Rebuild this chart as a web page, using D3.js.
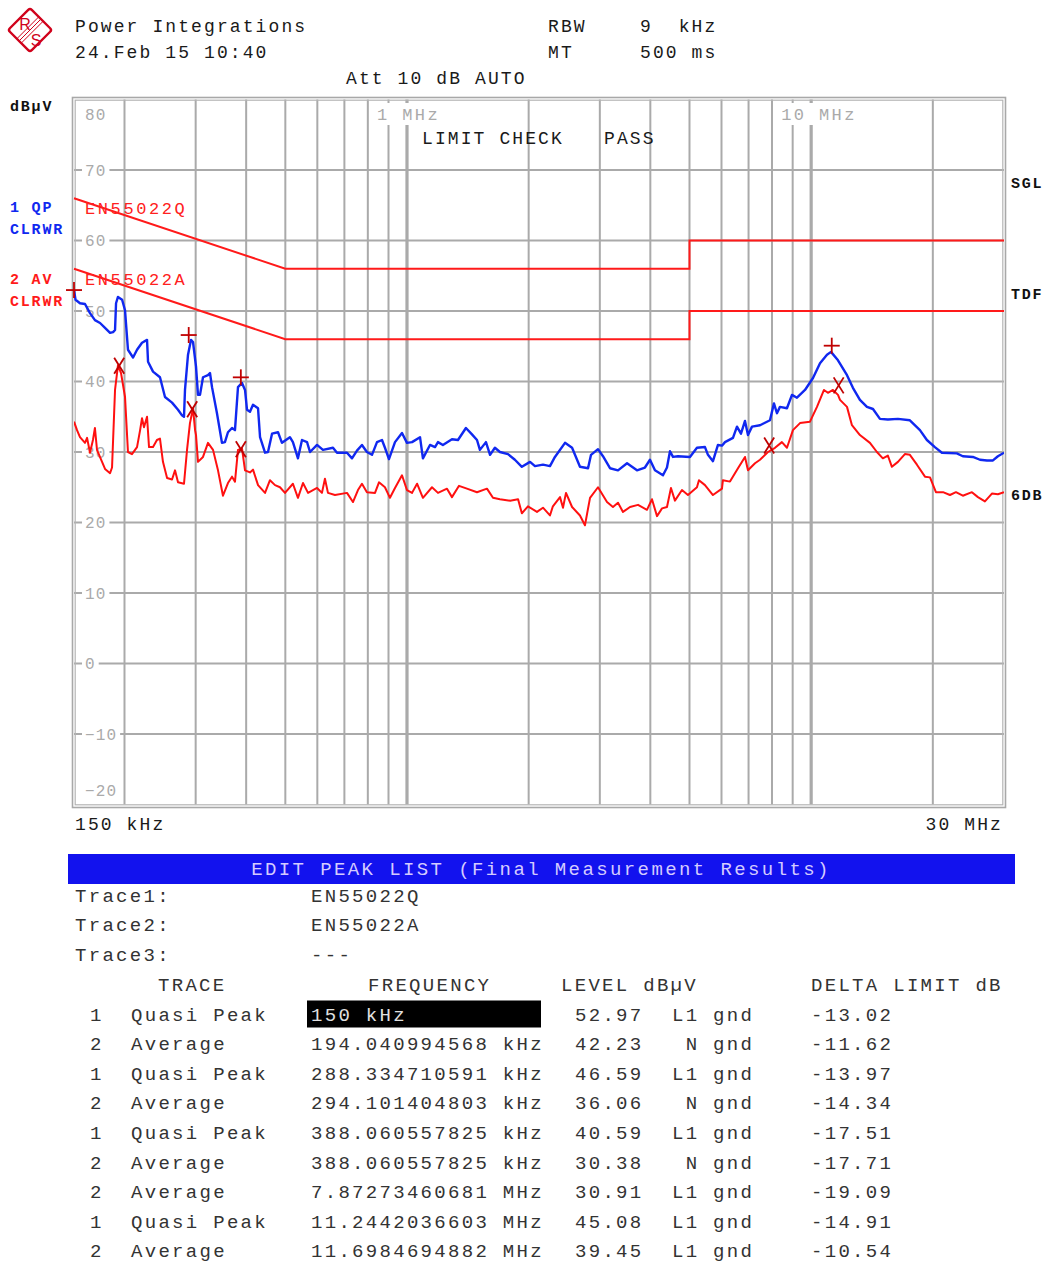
<!DOCTYPE html>
<html>
<head>
<meta charset="utf-8">
<script src="https://cdn.jsdelivr.net/npm/d3@7"></script>
<style>
  body { margin: 0; background: #fff; }
  svg { display: block; }
  text { white-space: pre; }
</style>
</head>
<body>
<svg id="chart" width="1046" height="1263"></svg>
<script>
// ---- Measurement data (frequency in kHz, level in dBµV) ----

// Trace 1: quasi-peak sweep
const qpTrace = [
  [150,53.0],[151.3,51.6],[155.2,51.1],[159.7,51.0],[164.3,49.7],[169.0,48.7],[174.0,48.3],[179.0,47.6],
  [184.2,46.9],[187.4,47.0],[189.5,47.3],[190.6,51.1],[192.7,52.0],[197.3,51.6],[200.6,50.1],[204.0,44.5],
  [210.0,43.4],[214.8,44.5],[221.0,45.5],[227.4,45.9],[228.7,42.8],[235.3,41.4],[244.8,40.6],[251.9,37.8],
  [262.2,37.0],[271.3,36.0],[277.5,35.2],[280.7,35.0],[282.3,38.8],[287.2,43.8],[292.1,45.9],[295.5,45.6],
  [300.6,42.1],[304.0,38.1],[307.5,38.1],[312.8,40.6],[321.8,40.9],[325.5,41.2],[329.3,39.2],[338.7,35.5],
  [348.5,31.3],[354.4,31.4],[360.6,32.8],[369.0,33.4],[375.3,33.1],[381.8,39.2],[390.6,39.8],[397.4,38.8],
  [401.9,36.0],[408.8,35.7],[415.9,36.7],[428.0,36.2],[432.9,32.1],[445.4,29.9],[453.0,30.0],[463.5,32.6],
  [479.6,32.8],[490.5,31.3],[513.2,32.1],[522.1,31.4],[537.3,29.1],[549.8,31.7],[565.8,31.4],[575.5,30.0],
  [599.0,31.0],[619.5,30.3],[656.0,30.6],[671.1,29.9],[710.4,29.9],[731.0,29.1],[752.0,30.2],[773.7,31.0],
  [795.9,30.0],[819.2,29.6],[842.9,31.4],[867.2,31.7],[882.0,30.6],[902.4,29.0],[933.9,31.4],[971.9,32.7],
  [1000,31.3],[1029,31.4],[1077,32.1],[1095,29.1],[1140,31.0],[1173,30.7],[1193,31.4],[1227,31.0],
  [1292,31.8],[1337,31.7],[1399,33.4],[1448,32.5],[1490,31.7],[1515,30.3],[1568,31.4],[1605,29.6],
  [1650,30.6],[1698,30.0],[1778,29.7],[1849,28.9],[1924,27.9],[2016,28.6],[2073,28.0],[2170,28.2],
  [2258,28.0],[2323,29.3],[2460,31.3],[2561,30.6],[2679,27.9],[2805,27.7],[2853,29.6],[2969,30.4],
  [3054,29.4],[3179,27.7],[3327,27.4],[3503,28.4],[3707,27.4],[3879,27.8],[3992,28.9],[4107,27.4],
  [4299,26.7],[4398,27.8],[4474,30.1],[4551,29.3],[4683,29.4],[5013,29.3],[5217,30.6],[5461,30.7],
  [5555,29.6],[5715,28.7],[5880,31.0],[6016,30.9],[6120,31.4],[6405,32.0],[6553,33.6],[6704,32.6],
  [6859,34.4],[6977,32.4],[7139,33.6],[7472,33.8],[7908,34.5],[8090,36.9],[8229,35.5],[8371,36.4],
  [8712,36.2],[8964,38.1],[9223,37.7],[9654,38.8],[10104,40.5],[10517,42.6],[10944,43.8],[11196,44.2],
  [11652,43.0],[12265,40.9],[12686,39.1],[13202,37.4],[13741,36.4],[14222,36.1],[14798,34.7],[15480,34.6],
  [16395,34.7],[17550,34.5],[18585,33.1],[19335,31.7],[20235,30.7],[21060,29.9],[22935,29.8],[23730,29.4],
  [25125,29.3],[26160,28.9],[27225,28.8],[28170,28.8],[28980,29.4],[30000,29.9]
];

// Trace 2: average sweep
const avTrace = [
  [150,34.3],[152.6,33.1],[155.2,32.1],[159.7,31.3],[161.6,32.0],[164.3,29.9],[167.1,31.7],[169.0,33.4],
  [171.0,30.3],[176.0,28.6],[179.0,27.6],[184.2,27.0],[186.3,27.8],[189.5,38.8],[192.7,42.3],[196.1,41.2],
  [200.6,37.8],[204.0,30.0],[208.7,29.7],[214.8,30.7],[218.6,33.1],[221.0,34.8],[223.5,33.5],[227.4,35.0],
  [230.0,30.7],[235.3,30.7],[240.6,31.7],[244.8,31.9],[249.0,28.6],[254.9,26.3],[262.2,26.1],[266.7,27.4],
  [271.3,25.7],[280.7,25.5],[285.6,30.3],[290.4,34.1],[295.5,36.2],[299.0,33.1],[300.6,32.4],[304.0,28.6],
  [312.8,29.3],[321.8,31.3],[331.2,30.3],[340.7,27.4],[350.5,23.8],[360.6,25.6],[369.0,26.5],[375.3,25.8],
  [381.8,30.3],[390.6,30.5],[397.4,27.4],[408.8,27.1],[415.9,27.5],[428.0,25.3],[445.4,24.2],[458.1,26.0],
  [471.5,25.3],[485.0,25.0],[499.0,24.2],[522.1,25.5],[537.3,23.5],[552.9,25.6],[569.1,24.2],[599.0,24.9],
  [616.0,24.2],[626.6,26.2],[637.5,24.2],[663.4,23.9],[710.4,24.2],[735.0,22.9],[756.3,24.6],[773.7,25.5],
  [795.9,24.3],[833.4,24.2],[852.5,25.7],[882.0,25.0],[907.5,23.5],[933.9,24.9],[971.9,26.7],[1000,24.6],
  [1029,24.2],[1059,25.5],[1095,23.5],[1153,25.0],[1193,24.2],[1256,24.8],[1292,23.6],[1345,25.2],
  [1407,24.8],[1490,24.3],[1577,24.8],[1632,23.5],[1698,23.3],[1799,23.1],[1883,23.3],[1924,21.3],
  [1992,22.3],[2097,21.5],[2170,22.1],[2258,21.0],[2296,22.3],[2391,23.6],[2432,22.1],[2474,24.2],
  [2561,22.2],[2679,21.0],[2756,19.6],[2837,23.5],[2969,25.0],[3125,22.9],[3233,22.2],[3327,22.8],
  [3423,21.5],[3563,22.2],[3729,22.5],[3924,21.8],[4038,23.3],[4155,20.9],[4275,22.0],[4398,22.2],
  [4499,24.9],[4602,23.1],[4790,24.6],[4956,23.9],[5217,25.0],[5277,26.0],[5461,25.3],[5715,23.9],
  [6016,24.8],[6049,26.0],[6297,25.8],[6591,27.7],[6859,29.3],[6977,27.4],[7262,28.4],[7472,28.9],
  [7818,30.0],[8138,30.6],[8465,31.4],[8712,30.6],[9015,33.1],[9384,34.1],[9933,34.3],[10337,36.4],
  [10757,38.8],[11000,38.4],[11321,38.8],[11652,38.1],[11787,37.4],[12265,36.4],[12615,33.8],[13202,32.4],
  [13978,31.3],[14544,30.0],[15045,29.1],[15480,29.5],[15840,27.9],[16395,28.6],[17055,29.7],[17550,29.6],
  [18270,28.2],[19125,26.5],[19680,26.4],[20355,24.3],[21195,24.3],[22050,23.9],[22815,24.3],[23730,23.8],
  [24990,24.3],[25860,23.6],[26910,23.0],[28005,24.1],[28980,24.0],[30000,24.3]
];

// EN 55022 class B limit lines
const limitFreqKHz = [150, 500, 5000, 5000, 30000];
const qpLimit = [66, 56, 56, 60, 60];
const avLimit = [56, 46, 46, 50, 50];

// Axis ticks
const levelTicks = [80, 70, 60, 50, 40, 30, 20, 10, 0, -10, -20];
const gridFreqKHz = [200,300,400,500,600,700,800,900,1000,2000,3000,4000,5000,6000,7000,8000,9000,10000,20000];
const decadeFreqKHz = [1000, 10000];
const decadeLabels = ["1 MHz", "10 MHz"];

// Peak list (final measurement results)
const peakTrace = [1, 2, 1, 2, 1, 2, 2, 1, 2];
const peakDetector = ["Quasi Peak","Average","Quasi Peak","Average","Quasi Peak","Average","Average","Quasi Peak","Average"];
const peakFreqLabel = ["150 kHz","194.040994568 kHz","288.334710591 kHz","294.101404803 kHz","388.060557825 kHz",
  "388.060557825 kHz","7.87273460681 MHz","11.2442036603 MHz","11.6984694882 MHz"];
const peakFreqKHz = [150, 194.040994568, 288.334710591, 294.101404803, 388.060557825, 388.060557825,
  7872.73460681, 11244.2036603, 11698.4694882];
const peakLevel = [52.97, 42.23, 46.59, 36.06, 40.59, 30.38, 30.91, 45.08, 39.45];
const peakLine = ["L1", "N", "L1", "N", "L1", "N", "L1", "L1", "L1"];
const peakDelta = [-13.02, -11.62, -13.97, -14.34, -17.51, -17.71, -19.09, -14.91, -10.54];

// ---- Drawing ----
const MONO = "'Courier New','Liberation Mono',monospace";
const svg = d3.select("#chart");

const plot = { left: 74, right: 1004, top: 99.5, bottom: 804.5 };
const x = d3.scaleLog().domain([150, 30000]).range([plot.left, plot.right]);
const y = d3.scaleLinear().domain([-20, 80]).range([plot.bottom, plot.top]);

function label(g, px, py, str, opt = {}) {
  return g.append("text")
    .attr("x", px).attr("y", py)
    .attr("font-family", MONO)
    .attr("font-size", opt.size || 18)
    .attr("font-weight", opt.weight || "normal")
    .attr("letter-spacing", opt.ls !== undefined ? opt.ls : 2.1)
    .attr("fill", opt.fill || "#1a1a1a")
    .attr("text-anchor", opt.anchor || "start")
    .text(str);
}

// Logo
const RED_LOGO = "#d0021b";
const logo = svg.append("g").attr("transform", "translate(30,30)");
logo.append("rect").attr("x", -15.5).attr("y", -15.5).attr("width", 31).attr("height", 31)
  .attr("rx", 2.5).attr("transform", "rotate(45)")
  .attr("fill", "none").attr("stroke", RED_LOGO).attr("stroke-width", 2.4);
[-2.2, 0, 2.2].forEach(o => {
  logo.append("line").attr("x1", -11 + o).attr("y1", 11 + o).attr("x2", 11 + o).attr("y2", -11 + o)
    .attr("stroke", RED_LOGO).attr("stroke-width", 1);
});
logo.append("text").attr("x", -5).attr("y", 0).attr("text-anchor", "middle")
  .attr("font-family", "'Liberation Sans',Arial,sans-serif").attr("font-size", 16)
  .attr("fill", RED_LOGO).text("R");
logo.append("text").attr("x", 6).attr("y", 16).attr("text-anchor", "middle")
  .attr("font-family", "'Liberation Sans',Arial,sans-serif").attr("font-size", 16)
  .attr("fill", RED_LOGO).text("S");

// Header
const head = svg.append("g");
label(head, 75, 32, "Power Integrations");
label(head, 75, 58, "24.Feb 15 10:40");
label(head, 548, 32, "RBW");
label(head, 640, 32, "9  kHz");
label(head, 548, 58, "MT");
label(head, 640, 58, "500 ms");
label(head, 346, 84, "Att 10 dB AUTO");

// Grid
const grid = svg.append("g");
gridFreqKHz.forEach(f => {
  const major = decadeFreqKHz.includes(f);
  grid.append("line")
    .attr("x1", x(f)).attr("x2", x(f)).attr("y1", plot.top).attr("y2", plot.bottom)
    .attr("stroke", "#aaaaaa").attr("stroke-width", major ? 3.2 : 2);
});
levelTicks.filter(v => v > -20 && v < 80).forEach(v => {
  grid.append("line")
    .attr("x1", plot.left).attr("x2", plot.right).attr("y1", y(v)).attr("y2", y(v))
    .attr("stroke", "#aaaaaa").attr("stroke-width", 2);
});

// Frame (double rule)
svg.append("rect").attr("x", 72.5).attr("y", 97.5).attr("width", 933).attr("height", 710)
  .attr("fill", "none").attr("stroke", "#a8a8a8").attr("stroke-width", 1.6);
svg.append("rect").attr("x", 75.2).attr("y", 100.2).attr("width", 927.6).attr("height", 704.6)
  .attr("fill", "none").attr("stroke", "#b4b4b4").attr("stroke-width", 1.2);

// Level tick labels
const tickG = svg.append("g");
levelTicks.forEach(v => {
  let py = y(v);
  if (v === 80) py = 114;
  if (v === -20) py = 790;
  const str = String(v);
  const w = str.length * 10.7;
  if (v !== 80 && v !== -20) {
    tickG.append("rect").attr("x", 82).attr("y", py - 8).attr("width", w + 6).attr("height", 16).attr("fill", "#fff");
  }
  label(tickG, 85, py + 5.5, str.replace("-", "\u2212"), { size: 16, ls: 1.1, fill: "#aaaaaa" });
});

// Decade labels on top row
decadeFreqKHz.forEach((f, i) => {
  const str = decadeLabels[i];
  const lx = x(f) - 30;
  tickG.append("rect").attr("x", lx - 3).attr("y", 103).attr("width", str.length * 12.8 + 4).attr("height", 22).attr("fill", "#fff");
  label(tickG, lx, 120, str, { size: 17, ls: 2.4, fill: "#aaaaaa" });
});

// Limit lines
const limitLine = d3.line().x(d => x(d[0])).y(d => y(d[1]));
const limG = svg.append("g");
[qpLimit, avLimit].forEach(lv => {
  limG.append("path").datum(limitFreqKHz.map((f, i) => [f, lv[i]]))
    .attr("d", limitLine).attr("fill", "none").attr("stroke", "#ff1a1a").attr("stroke-width", 2);
});
label(limG, 85, 214, "EN55022Q", { size: 17, ls: 2.6, fill: "#ff2020" });
label(limG, 85, 285, "EN55022A", { size: 17, ls: 2.6, fill: "#ff2020" });

// Measurement traces
svg.append("clipPath").attr("id", "plotClip").append("rect")
  .attr("x", plot.left).attr("y", plot.top).attr("width", plot.right - plot.left).attr("height", plot.bottom - plot.top);
const traceG = svg.append("g").attr("clip-path", "url(#plotClip)");
const traceLine = d3.line().x(d => x(d[0])).y(d => y(d[1]));
traceG.append("path").datum(avTrace).attr("d", traceLine)
  .attr("fill", "none").attr("stroke", "#ff1010").attr("stroke-width", 2).attr("stroke-linejoin", "round");
traceG.append("path").datum(qpTrace).attr("d", traceLine)
  .attr("fill", "none").attr("stroke", "#1028f0").attr("stroke-width", 2.4).attr("stroke-linejoin", "round");

// Peak markers: + for quasi-peak, x for average
const markG = svg.append("g").attr("stroke", "#c00000").attr("stroke-width", 1.8);
peakFreqKHz.forEach((f, i) => {
  const cx = x(f), cy = y(peakLevel[i]);
  if (peakTrace[i] === 1) {
    markG.append("line").attr("x1", cx - 8).attr("x2", cx + 8).attr("y1", cy).attr("y2", cy);
    markG.append("line").attr("x1", cx).attr("x2", cx).attr("y1", cy - 8).attr("y2", cy + 8);
  } else {
    markG.append("line").attr("x1", cx - 5).attr("x2", cx + 5).attr("y1", cy - 8).attr("y2", cy + 8);
    markG.append("line").attr("x1", cx + 5).attr("x2", cx - 5).attr("y1", cy - 8).attr("y2", cy + 8);
  }
});

// In-plot annotation
label(svg, 422, 144, "LIMIT CHECK");
label(svg, 604, 144, "PASS");

// Side annotations
const side = svg.append("g");
const sideOpt = (fill) => ({ size: 15, weight: "bold", ls: 1.8, fill });
label(side, 10, 111, "dBµV", sideOpt("#111"));
label(side, 10, 212, "1 QP", sideOpt("#1028f0"));
label(side, 10, 234, "CLRWR", sideOpt("#1028f0"));
label(side, 10, 284, "2 AV", sideOpt("#ff1a1a"));
label(side, 10, 306, "CLRWR", sideOpt("#ff1a1a"));
label(side, 1011, 188, "SGL", sideOpt("#111"));
label(side, 1011, 299, "TDF", sideOpt("#111"));
label(side, 1011, 500, "6DB", sideOpt("#111"));

// Frequency span labels
label(svg, 75, 830, "150 kHz");
label(svg, 1003, 830, "30 MHz", { anchor: "end" });

// Peak list table
const tbl = svg.append("g");
tbl.append("rect").attr("x", 68).attr("y", 854).attr("width", 947).attr("height", 30).attr("fill", "#1212ee");
label(tbl, 541, 875, "EDIT PEAK LIST (Final Measurement Results)", { size: 19, ls: 2.4, fill: "#d4cbff", anchor: "middle" });

const TCOL = "#333333";
const tOpt = { size: 19, ls: 2.3, fill: TCOL };
label(tbl, 75, 902, "Trace1:", tOpt);
label(tbl, 311, 902, "EN55022Q", tOpt);
label(tbl, 75, 931, "Trace2:", tOpt);
label(tbl, 311, 931, "EN55022A", tOpt);
label(tbl, 75, 961, "Trace3:", tOpt);
label(tbl, 311, 961, "---", tOpt);
label(tbl, 158, 991, "TRACE", tOpt);
label(tbl, 368, 991, "FREQUENCY", tOpt);
label(tbl, 561, 991, "LEVEL dBµV", tOpt);
label(tbl, 811, 991, "DELTA LIMIT dB", tOpt);

peakTrace.forEach((t, i) => {
  const cy = 1014 + i * 29.6;
  const by = cy + 6.5;
  if (i === 0) {
    tbl.append("rect").attr("x", 307).attr("y", cy - 13.5).attr("width", 234).attr("height", 27).attr("fill", "#000");
  }
  label(tbl, 90, by, String(t), tOpt);
  label(tbl, 131, by, peakDetector[i], tOpt);
  label(tbl, 311, by, peakFreqLabel[i], i === 0 ? { size: 19, ls: 2.3, fill: "#e0e0e0" } : tOpt);
  label(tbl, 575, by, peakLevel[i].toFixed(2), tOpt);
  label(tbl, 672, by, (peakLine[i].length === 1 ? " " : "") + peakLine[i] + " gnd", tOpt);
  label(tbl, 811, by, peakDelta[i].toFixed(2), tOpt);
});
</script>
</body>
</html>
